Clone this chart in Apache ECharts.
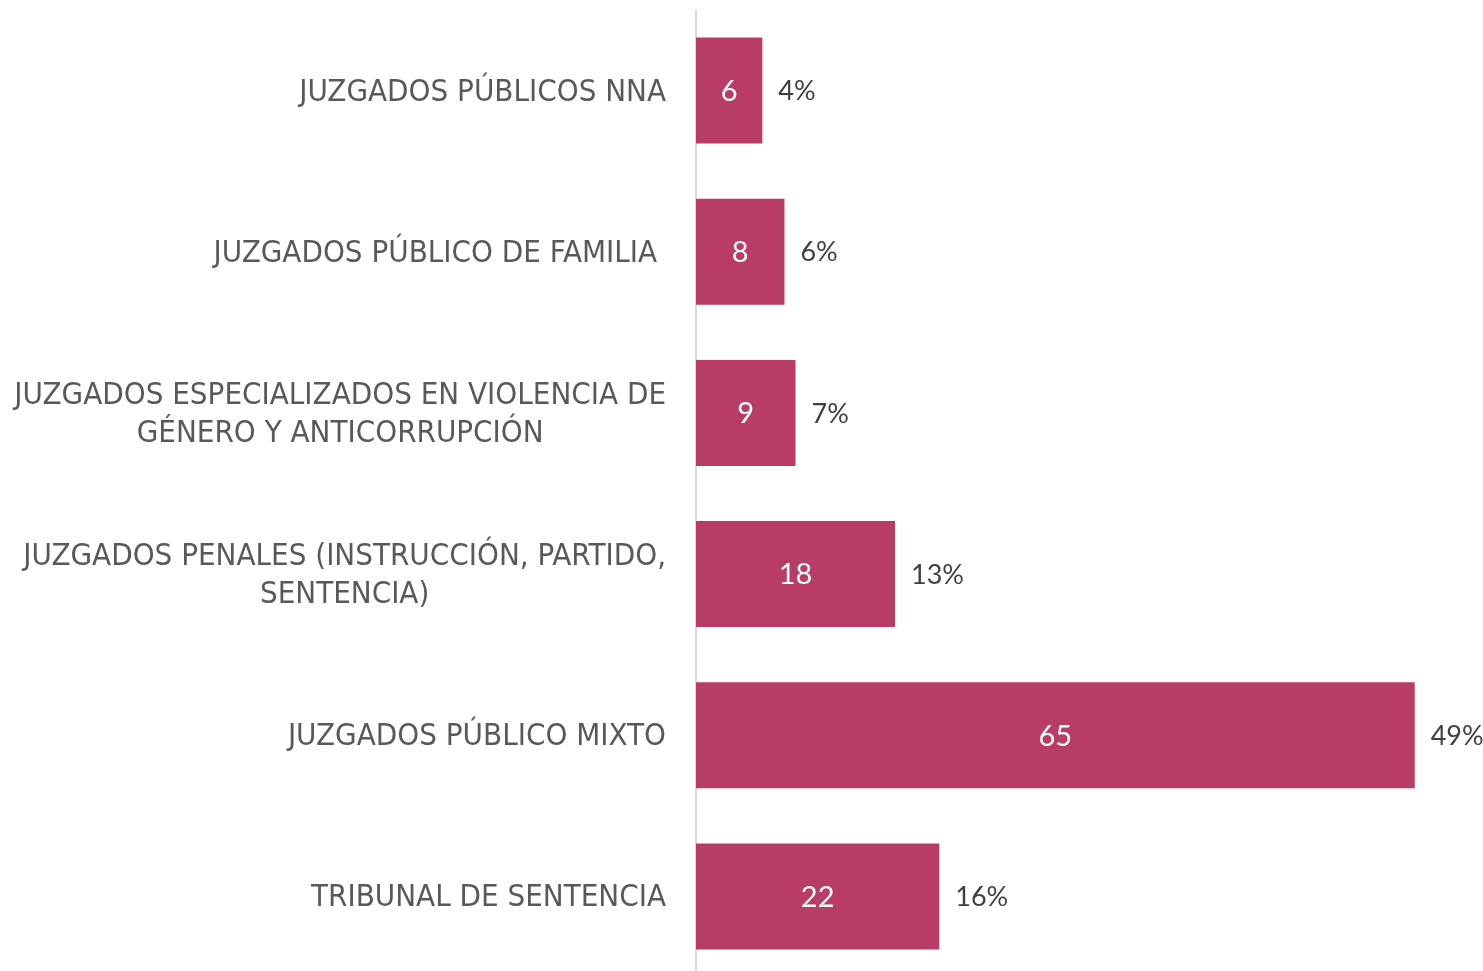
<!DOCTYPE html>
<html>
<head>
<meta charset="utf-8">
<title>Juzgados</title>
<script src="https://cdn.jsdelivr.net/npm/echarts@6/dist/echarts.min.js"></script>
<style>
  html, body { margin: 0; padding: 0; background: #fff; }
  #chart { width: 1483px; height: 971px; }
</style>
</head>
<body>
<div id="chart"></div>
<script>
// categorias de arriba a abajo
const categories = [
  'JUZGADOS PÚBLICOS NNA',
  'JUZGADOS PÚBLICO DE FAMILIA ',
  'JUZGADOS ESPECIALIZADOS EN VIOLENCIA DE\nGÉNERO Y ANTICORRUPCIÓN',
  'JUZGADOS PENALES (INSTRUCCIÓN, PARTIDO,\nSENTENCIA)',
  'JUZGADOS PÚBLICO MIXTO',
  'TRIBUNAL DE SENTENCIA'
]
const counts = [6, 8, 9, 18, 65, 22]
const percents = ['4%', '6%', '7%', '13%', '49%', '16%']

const chart = echarts.init(document.getElementById('chart'))

const option = {
  animation: false,
  grid: {
    left: 696,
    right: 13,
    top: 10,
    bottom: -6,
    outerBoundsMode: 'none'
  },
  xAxis: {
    type: 'value',
    min: 0,
    max: 70,
    show: false
  },
  yAxis: {
    type: 'category',
    inverse: true,
    data: categories,
    axisLine: { show: true, lineStyle: { color: '#d9d9d9', width: 2 } },
    axisTick: { show: false },
    axisLabel: {
      margin: 30,
      padding: [4, 0, 0, 0],
      formatter: (v) => v.split('\n').map((s) => '{a|' + s + '}').join('\n'),
      rich: {
        a: {
          color: '#595959',
          fontFamily: 'DejaVu Sans Condensed',
          fontSize: 31,
          lineHeight: 38,
          align: 'center'
        }
      }
    }
  },
  series: [
    {
      type: 'bar',
      data: counts,
      barWidth: 106,
      itemStyle: { color: '#b93c66' },
      label: {
        show: true,
        position: 'inside',
        color: '#ffffff',
        fontFamily: 'Lato',
        fontSize: 29,
        offset: [0, 1]
      },
      z: 2
    },
    {
      // etiquetas de porcentaje a la derecha
      type: 'bar',
      data: counts,
      barWidth: 106,
      barGap: '-100%',
      itemStyle: { color: 'rgba(0,0,0,0)' },
      label: {
        show: true,
        position: 'right',
        distance: 16,
        color: '#404040',
        fontFamily: 'Lato',
        fontSize: 27,
        offset: [0, 1]
      },
      z: 1
    }
  ]
}
option.series[1].label.formatter = (p) => percents[p.dataIndex]

chart.setOption(option)
</script>
</body>
</html>
